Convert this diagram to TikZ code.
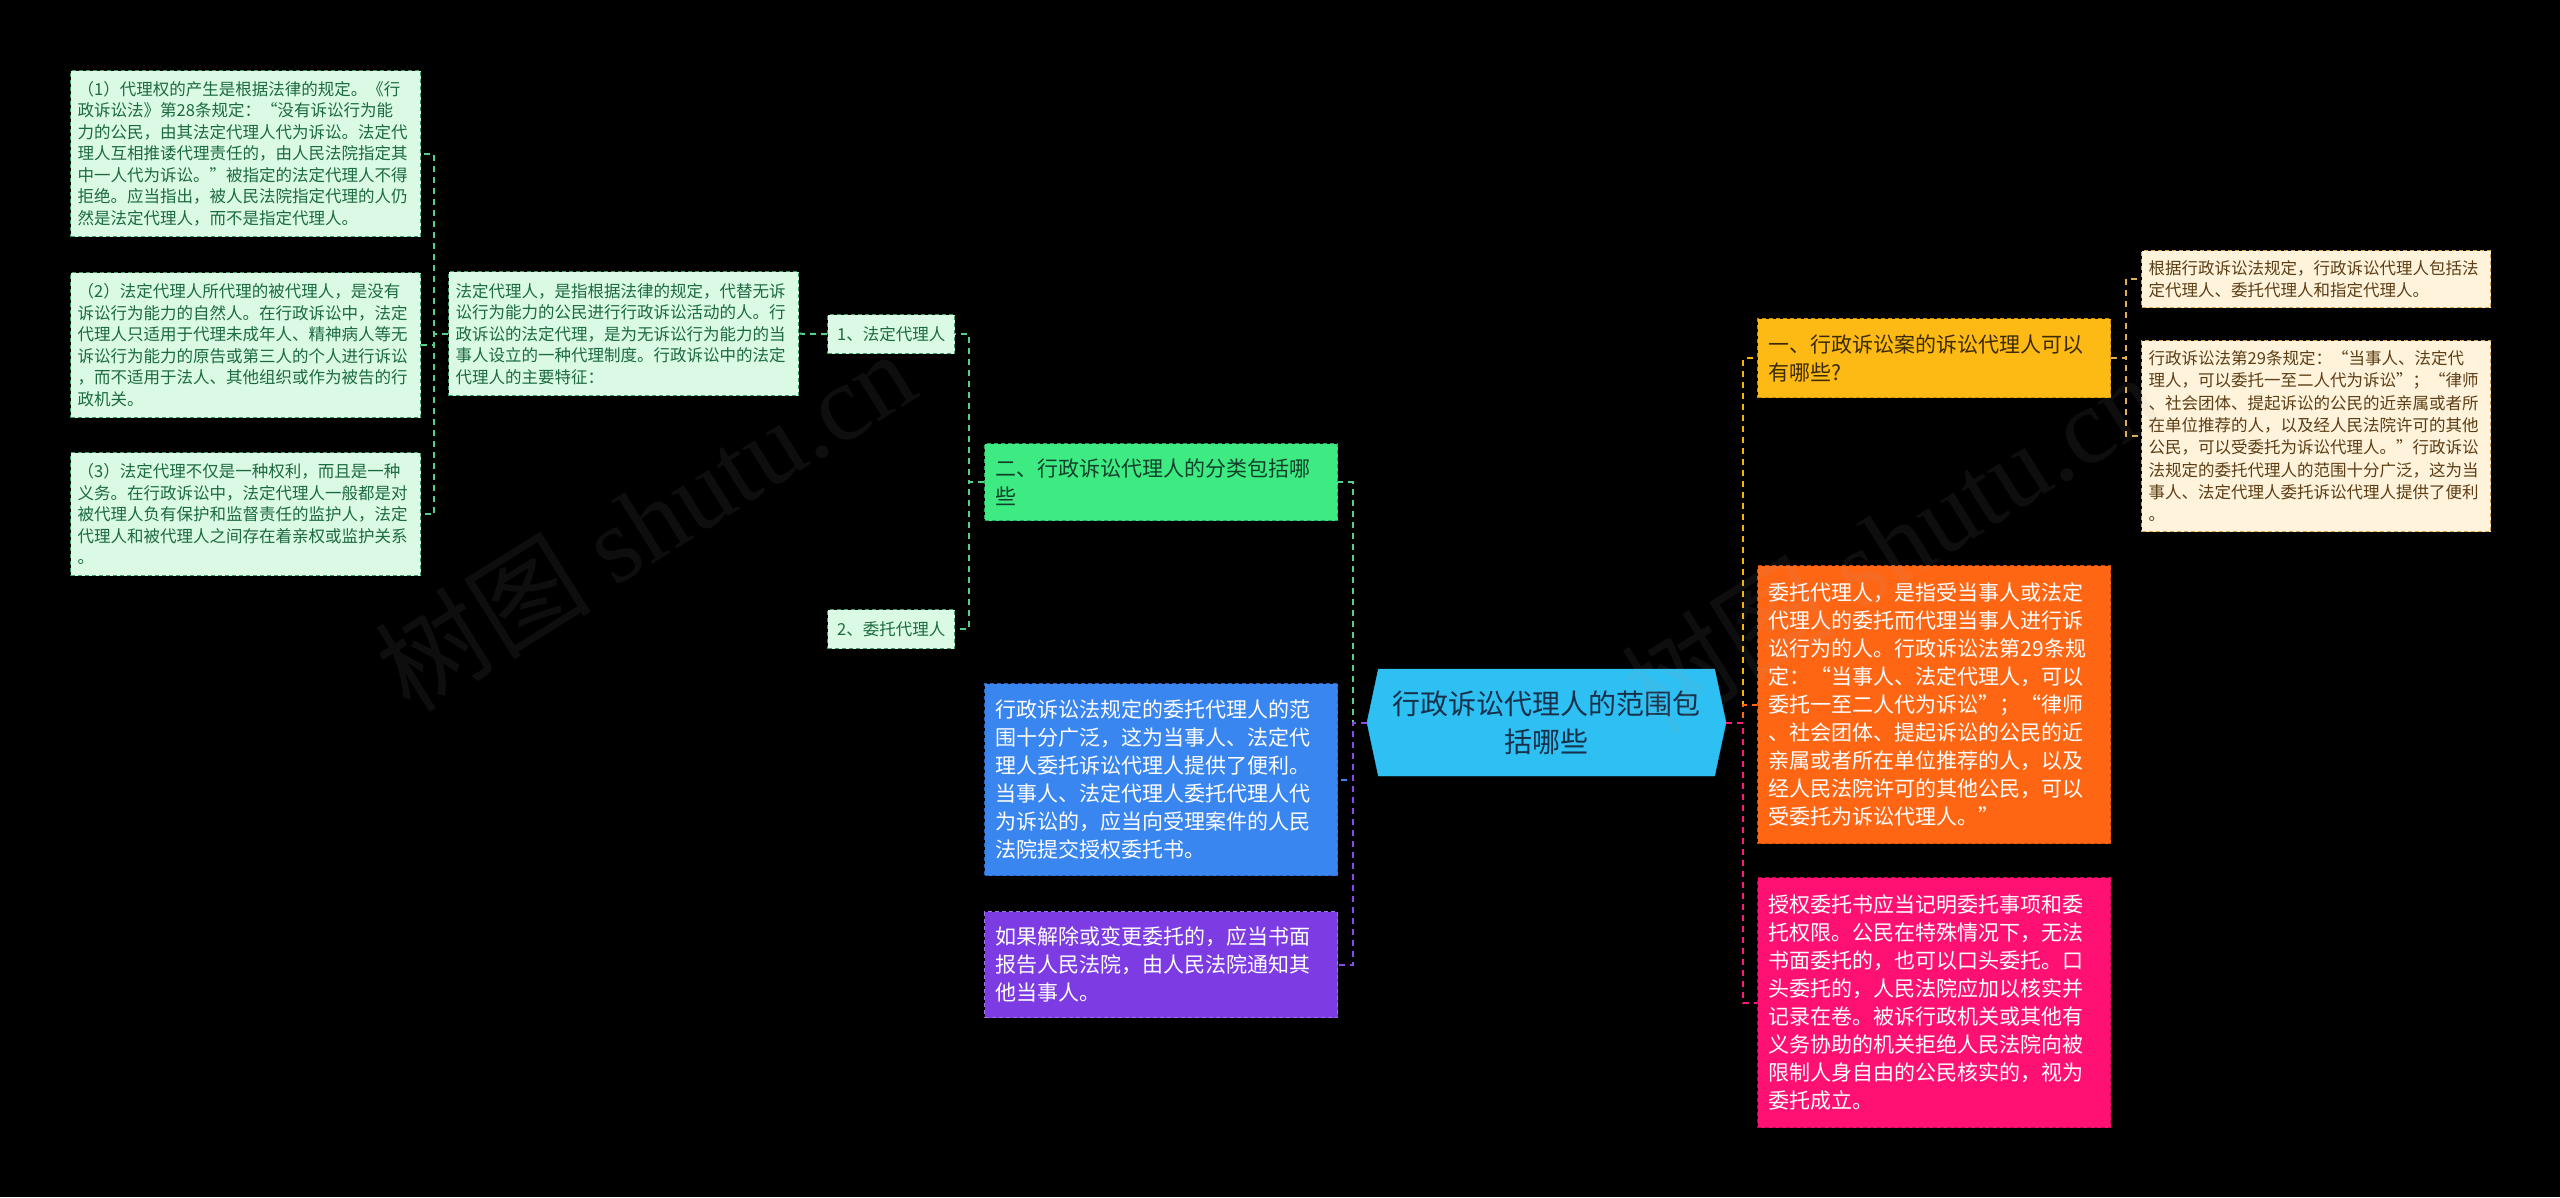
\documentclass[tikz,border=0pt]{standalone}
\usepackage{fontspec}
\setmainfont{Noto Sans CJK SC}
\newfontfamily\wmfont{Liberation Serif}
\newfontfamily\wmcjk{Noto Sans CJK SC}
\usetikzlibrary{shapes.symbols}
\definecolor{lgfill}{HTML}{DAFAE6}
\definecolor{lgdraw}{HTML}{3E9A66}
\definecolor{lgtext}{HTML}{1C6A40}
\definecolor{gfill}{HTML}{3DEB82}
\definecolor{gdraw}{HTML}{25A85A}
\definecolor{gtext}{HTML}{12402A}
\definecolor{bfill}{HTML}{3A86F0}
\definecolor{bdraw}{HTML}{2A62C0}
\definecolor{pfill}{HTML}{7D3BE3}
\definecolor{pdraw}{HTML}{A070F0}
\definecolor{hfill}{HTML}{2EC0F2}
\definecolor{htext}{HTML}{18304A}
\definecolor{yfill}{HTML}{FDBA14}
\definecolor{ydraw}{HTML}{C88E00}
\definecolor{ytext}{HTML}{3A2A05}
\definecolor{ofill}{HTML}{FF6614}
\definecolor{odraw}{HTML}{D04A00}
\definecolor{kfill}{HTML}{FF1173}
\definecolor{kdraw}{HTML}{C8004E}
\definecolor{cfill}{HTML}{FFF3DC}
\definecolor{cdraw}{HTML}{D9A441}
\definecolor{ctext}{HTML}{5C3D14}
\definecolor{lgline}{HTML}{55CF8C}
\definecolor{bline}{HTML}{3A86F0}
\definecolor{pline}{HTML}{8A4AE6}
\definecolor{yline}{HTML}{F5B800}
\definecolor{oline}{HTML}{FF6A10}
\definecolor{kline}{HTML}{FF1A7A}
\definecolor{cline}{HTML}{E0B050}
\tikzset{
  box/.style={draw, dashed, dash pattern=on 4pt off 3pt, line width=1.4pt, align=left, anchor=north west},
  lgbox/.style={box, fill=lgfill, draw=lgdraw, text=lgtext, font=\fontsize{16.5}{21.5}\selectfont, text width=336pt, inner xsep=7pt, inner ysep=6pt},
  tagbox/.style={box, fill=lgfill, draw=lgdraw, text=lgtext, font=\fontsize{16.5}{21.5}\selectfont, align=center, minimum width=127pt, minimum height=39pt, inner xsep=4pt},
  midbox/.style={box, font=\fontsize{21}{28}\selectfont, text width=331pt, inner xsep=11pt, inner ysep=8pt},
  crbox/.style={box, fill=cfill, draw=cdraw, text=ctext, font=\fontsize{16.5}{22.3}\selectfont, text width=335pt, inner xsep=7pt, inner ysep=5pt},
  conn/.style={line width=2pt, dash pattern=on 6pt off 5pt},
  wm/.style={text=gray!70, opacity=0.09, font=\fontsize{108}{110}\selectfont}
}
\begin{document}
\begin{tikzpicture}[x=1pt,y=-1pt]
\fill[black] (0,0) rectangle (2560,1197);
\useasboundingbox (0,0) rectangle (2560,1197);

% left column of details
\node[lgbox, minimum height=166pt] (n1) at (70,70) {（1）代理权的产生是根据法律的规定。《行\\政诉讼法》第28条规定：“没有诉讼行为能\\力的公民，由其法定代理人代为诉讼。法定代\\理人互相推诿代理责任的，由人民法院指定其\\中一人代为诉讼。”被指定的法定代理人不得\\拒绝。应当指出，被人民法院指定代理的人仍\\然是法定代理人，而不是指定代理人。};
\node[lgbox, minimum height=145pt] (n2) at (70,272) {（2）法定代理人所代理的被代理人，是没有\\诉讼行为能力的自然人。在行政诉讼中，法定\\代理人只适用于代理未成年人、精神病人等无\\诉讼行为能力的原告或第三人的个人进行诉讼\\，而不适用于法人、其他组织或作为被告的行\\政机关。};
\node[lgbox, minimum height=123pt] (n3) at (70,452) {（3）法定代理不仅是一种权利，而且是一种\\义务。在行政诉讼中，法定代理人一般都是对\\被代理人负有保护和监督责任的监护人，法定\\代理人和被代理人之间存在着亲权或监护关系\\。};
\node[lgbox, minimum height=124pt] (desc) at (448,271) {法定代理人，是指根据法律的规定，代替无诉\\讼行为能力的公民进行行政诉讼活动的人。行\\政诉讼的法定代理，是为无诉讼行为能力的当\\事人设立的一种代理制度。行政诉讼中的法定\\代理人的主要特征：};

\node[tagbox] (fd) at (827,314) {1、法定代理人};
\node[tagbox] (wt) at (827,609) {2、委托代理人};

% left main branches
\node[midbox, fill=gfill, draw=gdraw, text=gtext, minimum height=77pt] (green) at (984,443) {二、行政诉讼代理人的分类包括哪\\些};
\node[midbox, fill=bfill, draw=bdraw, text=white, minimum height=192pt] (blue) at (984,683) {行政诉讼法规定的委托代理人的范\\围十分广泛，这为当事人、法定代\\理人委托诉讼代理人提供了便利。\\当事人、法定代理人委托代理人代\\为诉讼的，应当向受理案件的人民\\法院提交授权委托书。};
\node[midbox, fill=pfill, draw=pdraw, text=white, minimum height=106pt] (purple) at (984,911) {如果解除或变更委托的，应当书面\\报告人民法院，由人民法院通知其\\他当事人。};

% centre
\node[signal, signal to=west and east, signal pointer angle=156, fill=hfill, draw=hfill, text=htext, align=center,
      font=\fontsize{28}{38}\selectfont, minimum width=359pt, minimum height=107pt, inner sep=0pt] (hex) at (1546.5,722.5) {行政诉讼代理人的范围包\\括哪些};

% right main branches
\node[midbox, fill=yfill, draw=ydraw, text=ytext, minimum height=79pt] (yellow) at (1757,318) {一、行政诉讼案的诉讼代理人可以\\有哪些?};
\node[midbox, fill=ofill, draw=odraw, text=white, minimum height=278pt] (orange) at (1757,565) {委托代理人，是指受当事人或法定\\代理人的委托而代理当事人进行诉\\讼行为的人。行政诉讼法第29条规\\定：“当事人、法定代理人，可以\\委托一至二人代为诉讼”；“律师\\、社会团体、提起诉讼的公民的近\\亲属或者所在单位推荐的人，以及\\经人民法院许可的其他公民，可以\\受委托为诉讼代理人。”};
\node[midbox, fill=kfill, draw=kdraw, text=white, minimum height=250pt] (pink) at (1757,877) {授权委托书应当记明委托事项和委\\托权限。公民在特殊情况下，无法\\书面委托的，也可以口头委托。口\\头委托的，人民法院应加以核实并\\记录在卷。被诉行政机关或其他有\\义务协助的机关拒绝人民法院向被\\限制人身自由的公民核实的，视为\\委托成立。};

\node[crbox, minimum height=57pt] (r1) at (2141,250) {根据行政诉讼法规定，行政诉讼代理人包括法\\定代理人、委托代理人和指定代理人。};
\node[crbox, minimum height=191pt] (r2) at (2141,340) {行政诉讼法第29条规定：“当事人、法定代\\理人，可以委托一至二人代为诉讼”；“律师\\、社会团体、提起诉讼的公民的近亲属或者所\\在单位推荐的人，以及经人民法院许可的其他\\公民，可以受委托为诉讼代理人。”行政诉讼\\法规定的委托代理人的范围十分广泛，这为当\\事人、法定代理人委托诉讼代理人提供了便利\\。};

% connectors
\draw[conn, draw=lgline] (hex.west) -- ++(-14,0) |- (green.east);
\draw[conn, draw=bline] (hex.west) -- ++(-14,0) |- (blue.east);
\draw[conn, draw=pline] (hex.west) -- ++(-14,0) |- (purple.east);
\draw[conn, draw=yline] (hex.east) -- ++(17,0) |- (yellow.west);
\draw[conn, draw=oline] (hex.east) -- ++(17,0) |- (orange.west);
\draw[conn, draw=kline] (hex.east) -- ++(17,0) |- (pink.west);
\draw[conn, draw=lgline] (green.west) -- ++(-15,0) |- (fd.east);
\draw[conn, draw=lgline] (green.west) -- ++(-15,0) |- (wt.east);
\draw[conn, draw=lgline] (fd.west) -- (desc.east);
\draw[conn, draw=lgline] (desc.west) -- ++(-14,0) |- (n1.east);
\draw[conn, draw=lgline] (desc.west) -- ++(-14,0) |- (n2.east);
\draw[conn, draw=lgline] (desc.west) -- ++(-14,0) |- (n3.east);
\draw[conn, draw=cline] (yellow.east) -- ++(15,0) |- (r1.west);
\draw[conn, draw=cline] (yellow.east) -- ++(15,0) |- (r2.west);

% watermarks
\node[wm, rotate=32] (wmL) at (645,520) {{\wmcjk 树图} {\wmfont shutu.cn}};
\node[wm, rotate=32] (wmR) at (1890,543) {{\wmcjk 树图} {\wmfont shutu.cn}};
\end{tikzpicture}
\end{document}
